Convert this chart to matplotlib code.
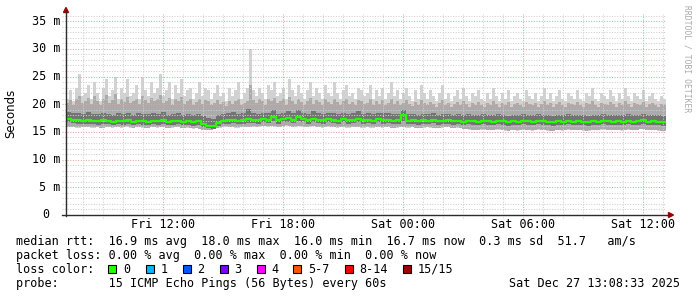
import numpy as np
import pandas as pd
import matplotlib
matplotlib.use("Agg")
import matplotlib.pyplot as plt
from matplotlib.lines import Line2D
from matplotlib.patches import Polygon, Rectangle
import matplotlib.dates as mdates

# ---------------- data (ms) ----------------
start_time = "2025-12-26 07:08:33"
end_time = "2025-12-27 13:08:33"

# outer smoke (max ping and upper-band ping), 9-minute columns
mx = [21.0, 22.5, 20.5, 23.0, 25.5, 21.5, 22.0, 23.5, 21.0, 24.0,
      22.0, 20.5, 23.0, 24.5, 21.5, 22.5, 25.0, 21.0, 23.0, 22.0,
      24.5, 21.5, 22.0, 23.5, 21.0, 25.0, 22.5, 21.5, 24.0, 22.0,
      23.0, 25.5, 21.5, 22.5, 24.0, 21.0, 23.5, 22.0, 24.5, 21.5,
      22.5, 23.0, 21.0, 22.0, 24.0, 21.5, 23.0, 22.5, 21.0, 22.0,
      23.5, 21.5, 22.0, 20.5, 23.0, 21.5, 22.5, 24.0, 21.0, 22.0,
      23.0, 30.0, 22.5, 21.5, 23.0, 22.0, 21.0, 23.5, 22.5, 24.0,
      21.5, 22.0, 23.0, 21.0, 24.5, 22.5, 21.5, 23.5, 22.0, 21.0,
      22.5, 24.0, 21.5, 23.0, 22.0, 21.0, 23.5, 22.0, 21.5, 24.0,
      22.0, 21.0, 22.5, 23.5, 21.5, 22.0, 21.0, 23.0, 22.5, 21.5,
      22.0, 23.5, 21.0, 22.5, 21.5, 23.0, 21.0, 22.0, 24.0, 21.5,
      22.5, 21.0, 22.0, 23.0, 21.5, 20.5, 22.5, 21.0, 23.5, 22.0,
      21.0, 22.5, 21.5, 20.5, 22.0, 23.5, 21.0, 22.0, 20.5, 21.5,
      22.5, 21.0, 23.0, 21.5, 20.5, 22.0, 21.5, 22.5, 21.0, 20.5,
      22.0, 21.0, 23.0, 21.5, 20.5, 22.0, 21.0, 22.5, 20.5, 21.5,
      22.0, 21.0, 20.5, 22.5, 21.5, 21.0, 22.0, 20.5, 21.5, 23.0,
      21.0, 22.0, 20.5, 21.5, 22.5, 21.0, 20.5, 22.0, 21.5, 21.0,
      22.5, 21.0, 20.5, 22.0, 21.5, 23.0, 21.0, 20.5, 22.0, 21.5,
      21.0, 22.5, 21.5, 20.5, 22.0, 21.0, 23.0, 21.5, 20.5, 22.0,
      21.5, 21.0, 22.5, 20.5, 21.5, 22.0, 21.0, 20.5, 21.5, 21.0]

hi = [20.2, 20.8, 19.8, 21.0, 21.5, 20.3, 20.6, 21.2, 20.0, 21.4,
      20.5, 19.9, 20.9, 21.6, 20.2, 20.7, 21.8, 20.1, 20.9, 20.4,
      21.3, 20.2, 20.6, 21.0, 20.0, 21.5, 20.8, 20.3, 21.2, 20.5,
      20.9, 21.7, 20.2, 20.6, 21.1, 19.9, 21.0, 20.5, 21.3, 20.1,
      20.6, 20.9, 19.9, 20.4, 21.0, 20.1, 20.7, 20.5, 19.8, 20.3,
      20.8, 20.0, 20.4, 19.6, 20.6, 20.1, 20.5, 21.0, 19.9, 20.3,
      20.6, 23.5, 20.7, 20.2, 20.9, 20.5, 19.9, 21.0, 20.6, 21.2,
      20.2, 20.5, 20.9, 19.9, 21.3, 20.6, 20.1, 20.9, 20.4, 19.9,
      20.6, 21.1, 20.1, 20.8, 20.4, 19.9, 20.9, 20.4, 20.1, 21.0,
      20.4, 19.9, 20.6, 20.9, 20.1, 20.4, 19.8, 20.7, 20.5, 20.0,
      20.3, 20.9, 19.8, 20.5, 20.0, 20.7, 19.8, 20.3, 21.0, 20.0,
      20.5, 19.8, 20.3, 20.7, 20.0, 19.6, 20.4, 19.8, 20.8, 20.2,
      19.8, 20.4, 20.0, 19.5, 20.2, 20.7, 19.8, 20.2, 19.5, 20.0,
      20.4, 19.8, 20.6, 20.0, 19.5, 20.2, 19.9, 20.4, 19.8, 19.5,
      20.2, 19.8, 20.6, 20.0, 19.5, 20.2, 19.8, 20.4, 19.5, 20.0,
      20.2, 19.8, 19.5, 20.4, 20.0, 19.8, 20.2, 19.5, 20.0, 20.6,
      19.8, 20.2, 19.5, 20.0, 20.4, 19.8, 19.5, 20.2, 20.0, 19.8,
      20.4, 19.8, 19.5, 20.2, 20.0, 20.6, 19.8, 19.5, 20.2, 20.0,
      19.8, 20.4, 20.0, 19.5, 20.2, 19.8, 20.6, 20.0, 19.5, 20.2,
      20.0, 19.8, 20.4, 19.5, 20.0, 20.2, 19.8, 19.5, 20.0, 19.8]

# inner smoke and median, 15-minute columns
up = [18.6, 18.5, 18.4, 18.3, 18.6, 18.3, 18.2, 18.5, 18.3, 18.1,
      18.4, 18.2, 18.5, 18.1, 18.4, 18.3, 18.2, 18.5, 18.2, 18.6,
      18.1, 18.3, 18.5, 18.1, 18.2, 18.0, 18.2, 17.8, 17.5, 17.4,
      18.0, 18.3, 18.4, 18.6, 18.3, 18.4, 19.2, 18.5, 18.3, 18.5,
      18.4, 19.0, 18.3, 18.5, 18.8, 18.4, 18.9, 18.5, 18.3, 18.7,
      18.4, 18.3, 18.5, 18.4, 18.2, 18.5, 18.3, 18.4, 18.7, 18.3,
      18.4, 18.2, 18.5, 18.4, 18.4, 18.2, 18.3, 19.0, 18.2, 18.3,
      18.1, 18.3, 18.2, 18.4, 18.1, 18.2, 18.3, 18.1, 18.2, 18.0,
      18.2, 18.1, 18.0, 18.2, 18.1, 18.0, 18.2, 18.1, 17.9, 18.1,
      18.0, 18.2, 18.1, 18.0, 18.2, 18.1, 18.0, 17.9, 18.1, 18.0,
      18.2, 18.0, 18.1, 18.0, 17.9, 18.1, 18.0, 18.2, 18.1, 18.0,
      18.1, 18.0, 18.2, 18.0, 18.1, 18.3, 18.0, 18.1, 18.0, 17.9]

med = [17.4, 17.2, 17.1, 17.0, 17.2, 17.0, 16.9, 17.1, 17.0, 16.8,
       17.0, 16.9, 17.1, 16.8, 17.0, 16.9, 16.8, 17.0, 16.9, 17.1,
       16.8, 16.9, 17.0, 16.8, 16.9, 16.7, 16.9, 16.4, 16.1, 16.0,
       16.6, 17.0, 17.1, 17.2, 17.0, 17.1, 17.3, 17.2, 17.1, 17.3,
       17.2, 17.7, 17.1, 17.3, 17.5, 17.2, 17.6, 17.3, 17.1, 17.4,
       17.2, 17.1, 17.3, 17.2, 17.0, 17.3, 17.1, 17.2, 17.4, 17.1,
       17.2, 17.0, 17.3, 17.1, 17.2, 17.0, 17.1, 18.0, 17.0, 17.1,
       16.9, 17.1, 17.0, 17.2, 16.9, 17.0, 17.1, 16.9, 17.0, 16.8,
       17.0, 16.9, 16.8, 17.0, 16.9, 16.8, 17.0, 16.9, 16.7, 16.9,
       16.8, 17.0, 16.9, 16.8, 17.0, 16.9, 16.8, 16.7, 16.9, 16.8,
       17.0, 16.8, 16.9, 16.8, 16.7, 16.9, 16.8, 17.0, 16.9, 16.8,
       16.9, 16.8, 17.0, 16.8, 16.9, 17.1, 16.8, 16.9, 16.8, 16.7]

lo = [16.7, 16.6, 16.5, 16.4, 16.5, 16.4, 16.3, 16.5, 16.4, 16.2,
      16.4, 16.3, 16.5, 16.2, 16.4, 16.3, 16.2, 16.4, 16.3, 16.5,
      16.2, 16.3, 16.4, 16.2, 16.3, 16.1, 16.3, 15.9, 15.7, 15.6,
      16.1, 16.4, 16.5, 16.6, 16.4, 16.5, 16.6, 16.6, 16.5, 16.7,
      16.6, 16.9, 16.5, 16.7, 16.8, 16.6, 16.9, 16.7, 16.5, 16.8,
      16.6, 16.5, 16.7, 16.6, 16.4, 16.7, 16.5, 16.6, 16.8, 16.5,
      16.6, 16.4, 16.7, 16.5, 16.6, 16.4, 16.5, 17.0, 16.4, 16.5,
      16.3, 16.5, 16.4, 16.6, 16.3, 16.4, 16.5, 16.3, 16.4, 16.2,
      16.4, 16.3, 16.2, 16.4, 16.3, 16.2, 16.4, 16.3, 16.1, 16.3,
      16.2, 16.4, 16.3, 16.2, 16.4, 16.3, 16.2, 16.1, 16.3, 16.2,
      16.4, 16.2, 16.3, 16.2, 16.1, 16.3, 16.2, 16.4, 16.3, 16.2,
      16.3, 16.2, 16.4, 16.2, 16.3, 16.5, 16.2, 16.3, 16.2, 16.1]

mn = [15.9, 16.0, 15.8, 15.9, 16.0, 15.8, 15.9, 15.7, 15.9, 15.8,
      15.9, 15.8, 16.0, 15.7, 15.9, 15.8, 15.7, 15.9, 15.8, 15.9,
      15.7, 15.8, 15.9, 15.7, 15.8, 15.6, 15.7, 15.4, 15.3, 15.4,
      15.7, 15.9, 16.0, 15.9, 15.8, 16.0, 15.9, 16.0, 15.9, 16.1,
      16.0, 16.1, 15.9, 16.0, 16.2, 15.9, 16.1, 16.0, 15.9, 16.1,
      15.9, 15.8, 16.0, 15.9, 15.8, 16.0, 15.8, 15.9, 16.0, 15.8,
      15.9, 15.8, 16.0, 15.8, 15.9, 15.7, 15.8, 16.0, 15.8, 15.9,
      15.7, 15.8, 15.9, 15.8, 15.7, 15.8, 15.9, 15.7, 15.8, 15.6,
      15.5, 15.4, 15.3, 15.5, 15.4, 15.3, 15.5, 15.4, 15.2, 15.4,
      15.3, 15.5, 15.4, 15.3, 15.5, 15.4, 15.3, 15.2, 15.4, 15.3,
      15.5, 15.3, 15.4, 15.3, 15.2, 15.4, 15.3, 15.5, 15.4, 15.3,
      15.4, 15.3, 15.5, 15.3, 15.4, 15.6, 15.3, 15.4, 15.3, 15.2]

y_ticks = [0, 5, 10, 15, 20, 25, 30, 35]
x_tick_times = ["2025-12-26 12:00", "2025-12-26 18:00", "2025-12-27 00:00",
                "2025-12-27 06:00", "2025-12-27 12:00"]
x_tick_labels = ["Fri 12:00", "Fri 18:00", "Sat 00:00", "Sat 06:00", "Sat 12:00"]

loss_labels = ["0", "1", "2", "3", "4", "5-7", "8-14", "15/15"]
loss_colors = ["#26ff00", "#00b8ff", "#0059ff", "#7e00ff", "#ff00ff",
               "#ff5500", "#ff0000", "#a10000"]

legend_lines = [
    "median rtt:  16.9 ms avg  18.0 ms max  16.0 ms min  16.7 ms now  0.3 ms sd  51.7   am/s",
    "packet loss: 0.00 % avg  0.00 % max  0.00 % min  0.00 % now",
    "loss color:",
    "probe:       15 ICMP Echo Pings (56 Bytes) every 60s",
]
date_text = "Sat Dec 27 13:08:33 2025"

# ---------------- figure ----------------
W, H = 697, 297
fig = plt.figure(figsize=(W / 100, H / 100), dpi=100)
fig.patch.set_facecolor("white")

L, R, T, B = 66, 666, 14, 215
ax = fig.add_axes([L / W, 1 - B / H, (R - L) / W, (B - T) / H])
ax.set_facecolor("white")

t0 = mdates.date2num(pd.Timestamp(start_time).to_pydatetime())
t1 = mdates.date2num(pd.Timestamp(end_time).to_pydatetime())
x_fine = np.linspace(t0, t1, len(mx) + 1)
x_coarse = np.linspace(t0, t1, len(med) + 1)

def ext(a):
    return np.append(np.asarray(a, float), a[-1])

mn_on_fine = np.interp(x_fine, x_coarse, ext(mn))
ax.fill_between(x_fine, mn_on_fine - 0.05, ext(mx), step="post", color="#d2d2d2", lw=0, zorder=1)
ax.fill_between(x_fine, mn_on_fine, ext(hi), step="post", color="#ababab", lw=0, zorder=2)
ax.fill_between(x_coarse, ext(lo), ext(up), step="post", color="#737373", lw=0, zorder=3)

ax.set_xlim(t0, t1)
ax.set_ylim(0, (B - T) / 5.54)
for s in ax.spines.values():
    s.set_visible(False)
ax.set_xticks([])
ax.set_yticks([])

# grid
minor_c, major_c = "#cfcfcf", "#e6a2a2"
dash = (0, (1, 1.5))
ytr = ax.get_yaxis_transform()
xtr = ax.get_xaxis_transform()
for v in range(1, 37):
    if v > ax.get_ylim()[1]:
        break
    c = major_c if v % 5 == 0 else minor_c
    ax.plot([-4 / 600, 1.0], [v, v], transform=ytr, color=c, lw=0.75,
            linestyle=dash, clip_on=False, zorder=4)
hours = pd.date_range("2025-12-26 08:00", "2025-12-27 13:00", freq="1h")
for h in hours:
    xv = mdates.date2num(h.to_pydatetime())
    c = major_c if h.hour % 6 == 0 else minor_c
    ax.plot([xv, xv], [-3 / 201, 1.0], transform=xtr, color=c, lw=0.75,
            linestyle=dash, clip_on=False, zorder=4)

# median line
ax.step(x_coarse, ext(med), where="post", color="#26ff00", lw=1.6, zorder=6)

# axes lines & arrows
def fx(px):
    return px / W

def fy(py):
    return 1 - py / H

axis_c = "#2c2c2c"
arrow_c = "#a00000"
fig.add_artist(Line2D([fx(66), fx(66)], [fy(216), fy(11)], color=axis_c, lw=1.0))
fig.add_artist(Line2D([fx(62), fx(669)], [fy(215), fy(215)], color=axis_c, lw=1.0))
fig.add_artist(Polygon([[fx(63.5), fy(12.5)], [fx(68.5), fy(12.5)], [fx(66), fy(7.5)]],
                       closed=True, color=arrow_c, transform=fig.transFigure))
fig.add_artist(Polygon([[fx(668.5), fy(212.5)], [fx(668.5), fy(217.5)], [fx(673.5), fy(215)]],
                       closed=True, color=arrow_c, transform=fig.transFigure))

mono = "DejaVu Sans Mono"
fs = 8.5

# y tick labels
for v in y_ticks:
    py = B - v * 5.54
    if v == 0:
        fig.text(fx(49.5), fy(py + 3.5), "0", ha="right", va="baseline",
                 family=mono, fontsize=fs)
    else:
        fig.text(fx(60), fy(py + 3.5), f"{v} m", ha="right", va="baseline",
                 family=mono, fontsize=fs)

# x tick labels
for t, lab in zip(x_tick_times, x_tick_labels):
    xv = mdates.date2num(pd.Timestamp(t).to_pydatetime())
    px = L + (xv - t0) / (t1 - t0) * (R - L)
    fig.text(fx(px), fy(228), lab, ha="center", va="baseline", family=mono, fontsize=fs)

# y-axis label
fig.text(fx(11), fy(113), "Seconds", rotation=90, ha="center", va="center",
         family="DejaVu Sans", fontsize=8.5)

# watermark
fig.text(fx(687), fy(5), "RRDTOOL / TOBI OETIKER", rotation=270, ha="center", va="top",
         family=mono, fontsize=5.8, color="#aaaaaa")

# legend
baselines = [245, 259, 273, 287]
for s, by in zip(legend_lines, baselines):
    fig.text(fx(16), fy(by), s, ha="left", va="baseline", family=mono, fontsize=fs)
fig.text(fx(680), fy(287), date_text, ha="right", va="baseline", family=mono, fontsize=fs)

box_x = [108, 145.5, 182.5, 219.5, 256.5, 293, 344.5, 402.5]
for bx, lab, c in zip(box_x, loss_labels, loss_colors):
    fig.add_artist(Rectangle((fx(bx), fy(273)), 8 / W, 8 / H, transform=fig.transFigure,
                             facecolor=c, edgecolor="black", lw=0.8))
    fig.text(fx(bx + 15), fy(273), lab, ha="left", va="baseline", family=mono, fontsize=fs)

fig.savefig("out.png", dpi=100, facecolor="white")
